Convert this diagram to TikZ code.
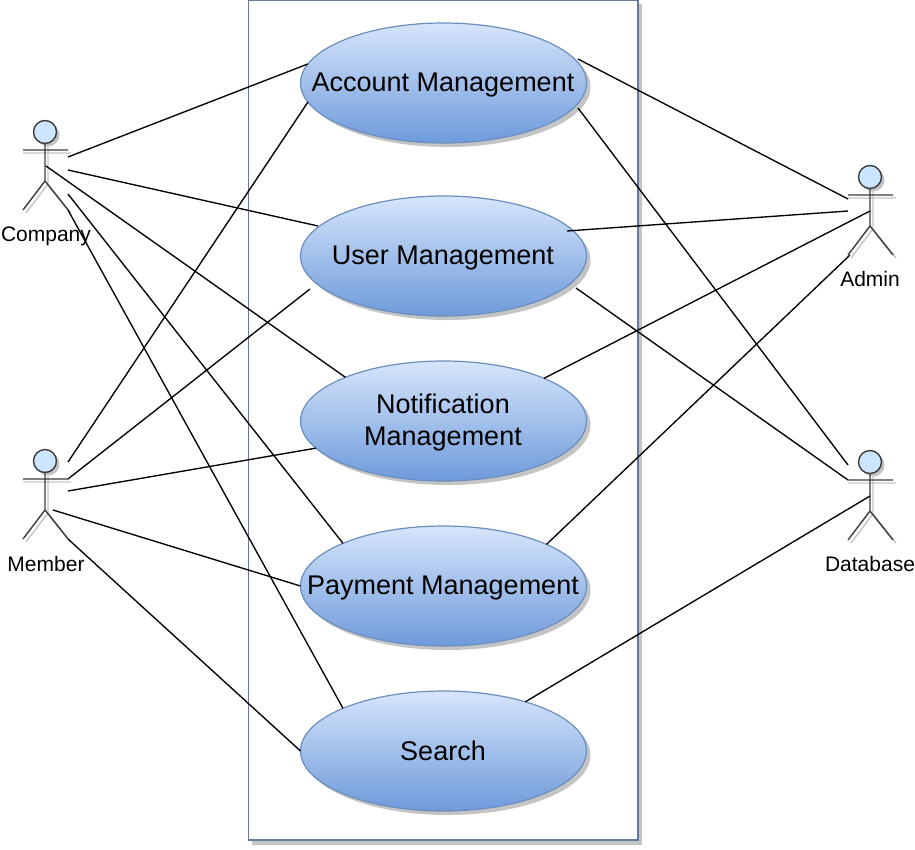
\documentclass[tikz,border=0pt]{standalone}
\usepackage{fontspec}
\setmainfont{Liberation Sans}
\usetikzlibrary{shadows,shapes.geometric}
\definecolor{frameblue}{HTML}{66799A}
\definecolor{usecaseedge}{HTML}{6C8EBF}
\definecolor{usetop}{HTML}{D6E5FB}
\definecolor{usebot}{HTML}{6E9ADB}
\definecolor{shadowgray}{HTML}{C4C4C4}
\definecolor{headfill}{HTML}{CCE5FF}
\definecolor{actorline}{HTML}{3C3C3C}
\tikzset{
  x=1pt,y=-1pt,
  usecase/.style={ellipse,draw=usecaseedge,line width=1.2pt,minimum width=286pt,minimum height=120pt,inner sep=0pt,outer sep=0pt,
    top color=usetop,bottom color=usebot,
    general shadow={shadow xshift=4pt,shadow yshift=-4pt,fill=shadowgray,draw=none}},
  uclabel/.style={inner sep=0pt,align=center,font=\fontsize{27}{32}\selectfont},
  conn/.style={black,line width=1.35pt},
  actorlabel/.style={inner sep=0pt,font=\fontsize{21}{25}\selectfont},
  actorstick/.style={draw=actorline,line width=1.4pt},
  actorghost/.style={draw=shadowgray,line width=1.4pt},
  headnode/.style={circle,draw=actorline,line width=1.4pt,fill=headfill,minimum size=23pt,inner sep=0pt,outer sep=0pt},
  headshadow/.style={circle,fill=shadowgray,minimum size=23pt,inner sep=0pt,outer sep=0pt},
}
\newcommand{\stickfig}[3]{%
  \begin{scope}[shift={(#2,#3)}]
    \node[headshadow] (#1ghost) at (3,3) {};
    \draw[actorghost] (3,11) -- (3,52) (-22,21) -- (26,21) (3,52) -- (-19,81) (3,52) -- (26,81);
    \draw[actorstick] (0,11) -- (0,49) (-22,18) -- (23,18) (0,49) -- (-22,78) (0,49) -- (23,78);
    \node[headnode] (#1) at (0,0) {};
  \end{scope}}
\begin{document}
\begin{tikzpicture}
\useasboundingbox (0,0) rectangle (915,849);
\fill[shadowgray] (252,4) rectangle (642,845);
\draw[draw=frameblue,fill=white,line width=1.7pt] (248.5,0.5) rectangle (638,840);

\node[usecase] (acc) at (443.5,83) {};
\node[usecase] (usr) at (443.5,256) {};
\node[usecase] (ntf) at (443.5,421) {};
\node[usecase] (pay) at (443.5,586) {};
\node[usecase] (srh) at (443.5,751) {};
\node[uclabel] (acctext) at (443,85) {Account Management};
\node[uclabel] (usrtext) at (443,258) {User Management};
\node[uclabel] (ntftext) at (443,423) {Notification\\Management};
\node[uclabel] (paytext) at (443,588) {Payment Management};
\node[uclabel] (srhtext) at (443,751) {Search};

\stickfig{company}{45}{132}
\stickfig{member}{45}{461}
\stickfig{admin}{870}{177}
\stickfig{database}{870}{462}

\node[actorlabel] (companylabel) at (46,236) {Company};
\node[actorlabel] (memberlabel) at (46,564) {Member};
\node[actorlabel] (adminlabel) at (870,279) {Admin};
\node[actorlabel] (databaselabel) at (870,564) {Database};

\coordinate (c1) at (68,157);
\coordinate (c2) at (68,170);
\coordinate (c3) at (46,166);
\coordinate (c4) at (68,194);
\coordinate (c5) at (68,210);
\coordinate (m1) at (68,462);
\coordinate (m2) at (68,479);
\coordinate (m3) at (68,491);
\coordinate (m4) at (53,510);
\coordinate (m5) at (68,539);
\coordinate (a1) at (848,199);
\coordinate (a2) at (848,211);
\coordinate (a3) at (870,211);
\coordinate (a4) at (850,255);
\coordinate (d1) at (848,465);
\coordinate (d2) at (848,480);
\coordinate (d3) at (870,496);
\coordinate (acce1) at (578,59);
\coordinate (acce2) at (578,108);
\coordinate (usre1) at (567,231);
\coordinate (usre2) at (576,288);
\coordinate (usrw1) at (318,226);
\coordinate (usrw2) at (310,289);

\draw[conn] (c1) -- (acc.172.5);
\draw[conn] (c2) -- (usrw1);
\draw[conn] (c3) -- (ntf.156.5);
\draw[conn] (c4) -- (pay.157.5);
\draw[conn] (c5) -- (srh.157.9);
\draw[conn] (m1) -- (acc.188.5);
\draw[conn] (m2) -- (usrw2);
\draw[conn] (m3) -- (ntf.192.4);
\draw[conn] (m4) -- (pay.180);
\draw[conn] (m5) -- (srh.180);
\draw[conn] (acce1) -- (a1);
\draw[conn] (usre1) -- (a2);
\draw[conn] (ntf.23.1) -- (a3);
\draw[conn] (pay.22.1) -- (a4);
\draw[conn] (acce2) -- (d1);
\draw[conn] (usre2) -- (d2);
\draw[conn] (srh.31.1) -- (d3);
\end{tikzpicture}
\end{document}
